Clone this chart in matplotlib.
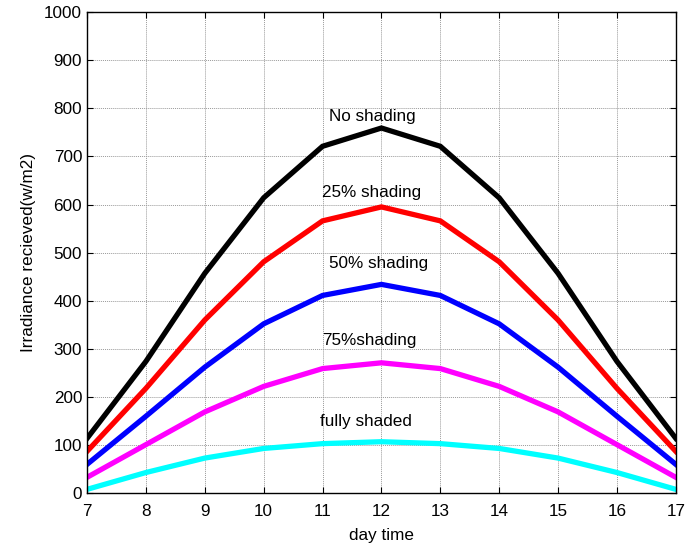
import matplotlib
matplotlib.use("Agg")
import matplotlib.pyplot as plt

plt.rcParams['font.family'] = ['Liberation Sans', 'DejaVu Sans']

hours = [7, 8, 9, 10, 11, 12, 13, 14, 15, 16, 17]
no_shading = [114, 274, 457, 614, 721, 759, 721, 614, 457, 274, 114]
shading_25 = [87, 218, 360, 481, 566, 595, 566, 481, 360, 218, 87]
shading_50 = [60, 160, 262, 352, 411, 434, 411, 352, 262, 160, 60]
shading_75 = [33, 101, 169, 222, 259, 271, 259, 222, 169, 101, 33]
fully_shaded = [8, 43, 73, 93, 103, 107, 103, 93, 73, 43, 8]

series = [no_shading, shading_25, shading_50, shading_75, fully_shaded]
colors = ['#000000', '#ff0000', '#0000ff', '#ff00ff', '#00ffff']
labels = ['No shading', '25% shading', '50% shading', '75%shading', 'fully shaded']
label_pos = [(11.85, 783), (11.84, 625), (11.95, 478), (11.8, 317), (11.73, 149)]

fs = 12.3
fig = plt.figure(figsize=(6.91, 5.48), dpi=100)
ax = fig.add_axes([0.126, 0.1, 0.852, 0.878])

for s, c in zip(series, colors):
    ax.plot(hours, s, color=c, linewidth=3.8, solid_joinstyle='miter')

for lab, (x, y) in zip(labels, label_pos):
    ax.text(x, y, lab, ha='center', va='center', fontsize=fs)

ax.set_xlim(7, 17)
ax.set_ylim(0, 1000)
ax.set_xticks(range(7, 18))
ax.set_yticks(range(0, 1001, 100))
ax.grid(True, color='#9a9a9a', linestyle=(0, (1, 1)), linewidth=0.7)
ax.tick_params(axis='x', pad=8)
ax.tick_params(direction='in', top=True, right=True, labelsize=fs, length=4)
ax.set_xlabel('day time', fontsize=fs, labelpad=6)
ax.set_ylabel('Irradiance recieved(w/m2)', fontsize=fs, labelpad=6)
for sp in ax.spines.values():
    sp.set_linewidth(1.0)

fig.savefig('out.png', dpi=100)
